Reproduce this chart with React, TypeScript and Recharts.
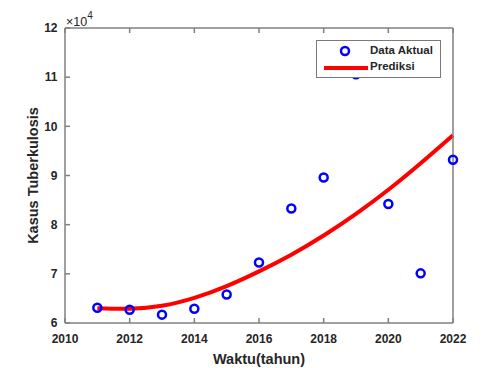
import { Label, Legend, Line, LineChart, XAxis, YAxis } from "recharts";

const years = [2011, 2012, 2013, 2014, 2015, 2016, 2017, 2018, 2019, 2020, 2021, 2022];
const aktual = [63100, 62700, 61700, 62900, 65800, 72300, 83300, 89600, 110600, 84200, 70100, 93200];
const prediksi = [63000, 62900, 63500, 65100, 67500, 70500, 73900, 77800, 82200, 87100, 92500, 98200];
const xTicks = [2010, 2012, 2014, 2016, 2018, 2020, 2022];
const yTicks = [60000, 70000, 80000, 90000, 100000, 110000, 120000];

const data = years.map((year, i) => ({
  year,
  aktual: aktual[i],
  prediksi: prediksi[i],
}));

const font = "'Liberation Sans', Arial, sans-serif";
const axisColor = "#808080";
const textColor = "#262626";

const Ring = (props: any) => {
  const { cx, cy } = props;
  if (cx == null || cy == null) return null;
  return <circle cx={cx} cy={cy} r={4} stroke="#0000ff" strokeWidth={2.5} fill="none" />;
};

const LegendBox = () => (
  <div
    style={{
      width: 123,
      height: 36,
      border: "1px solid #7a7a7a",
      background: "#fff",
      fontFamily: font,
      fontWeight: "bold",
      fontSize: 11.5,
      color: textColor,
      position: "relative",
    }}
  >
    <svg width={60} height={36} style={{ position: "absolute", left: 0, top: 0 }}>
      <circle cx={28} cy={10} r={4} stroke="#0000ff" strokeWidth={2.5} fill="none" />
      <line x1={7} x2={51} y1={27} y2={27} stroke="#ff0000" strokeWidth={4} />
    </svg>
    <div style={{ position: "absolute", left: 53, top: 3 }}>Data Aktual</div>
    <div style={{ position: "absolute", left: 53, top: 19 }}>Prediksi</div>
  </div>
);

export default function App() {
  return (
    <div style={{ position: "absolute", left: 0, top: 0, background: "#fff" }}>
      <LineChart
        width={500}
        height={368}
        data={data}
        margin={{ top: 27, right: 46, bottom: 0, left: 25 }}
      >
        <XAxis
          xAxisId="top"
          orientation="top"
          dataKey="year"
          type="number"
          domain={[2010, 2022]}
          ticks={xTicks}
          height={1}
          tickSize={-5}
          tickFormatter={() => ""}
          stroke={axisColor}
          strokeWidth={1.5}
        />
        <XAxis
          dataKey="year"
          type="number"
          domain={[2010, 2022]}
          ticks={xTicks}
          height={45}
          tickSize={-5}
          tickMargin={16}
          stroke={axisColor}
          strokeWidth={1.5}
          tick={{ fill: textColor, fontSize: 12, fontWeight: "bold", fontFamily: font }}
        >
          <Label
            content={({ viewBox }: any) => (
              <text
                x={viewBox.x + viewBox.width / 2}
                y={364}
                textAnchor="middle"
                fill={textColor}
                fontSize={14.5}
                fontWeight="bold"
                fontFamily={font}
              >
                Waktu(tahun)
              </text>
            )}
          />
        </XAxis>
        <YAxis
          yAxisId="right"
          orientation="right"
          type="number"
          domain={[60000, 120000]}
          ticks={yTicks}
          width={1}
          tickSize={-5}
          tickFormatter={() => ""}
          stroke={axisColor}
          strokeWidth={1.5}
        />
        <YAxis
          type="number"
          domain={[60000, 120000]}
          ticks={yTicks}
          width={40}
          tickSize={-5}
          tickMargin={12.5}
          stroke={axisColor}
          strokeWidth={1.5}
          tickFormatter={(v: number) => `${v / 10000}`}
          tick={{ fill: textColor, fontSize: 12, fontWeight: "bold", fontFamily: font }}
        >
          <Label
            content={({ viewBox }: any) => (
              <text
                x={33}
                y={viewBox.y + viewBox.height / 2}
                transform={`rotate(-90 33 ${viewBox.y + viewBox.height / 2})`}
                textAnchor="middle"
                dominantBaseline="central"
                fill={textColor}
                fontSize={14.5}
                fontWeight="bold"
                fontFamily={font}
              >
                Kasus Tuberkulosis
              </text>
            )}
          />
          <Label
            content={() => (
              <text x={66} y={25.5} fill={textColor} fontSize={12.5} fontFamily={font}>
                ×10
                <tspan dy={-7} fontSize={10}>
                  4
                </tspan>
              </text>
            )}
          />
        </YAxis>
        <Line
          dataKey="prediksi"
          type="natural"
          stroke="#ff0000"
          strokeWidth={4}
          dot={false}
          activeDot={false}
          isAnimationActive={false}
        />
        <Line
          dataKey="aktual"
          stroke="none"
          dot={<Ring />}
          activeDot={false}
          isAnimationActive={false}
        />
        <Legend
          layout="horizontal"
          verticalAlign="middle"
          align="center"
          content={<LegendBox />}
          wrapperStyle={{ position: "absolute", left: 316, top: 40, width: 125 }}
        />
      </LineChart>
    </div>
  );
}
